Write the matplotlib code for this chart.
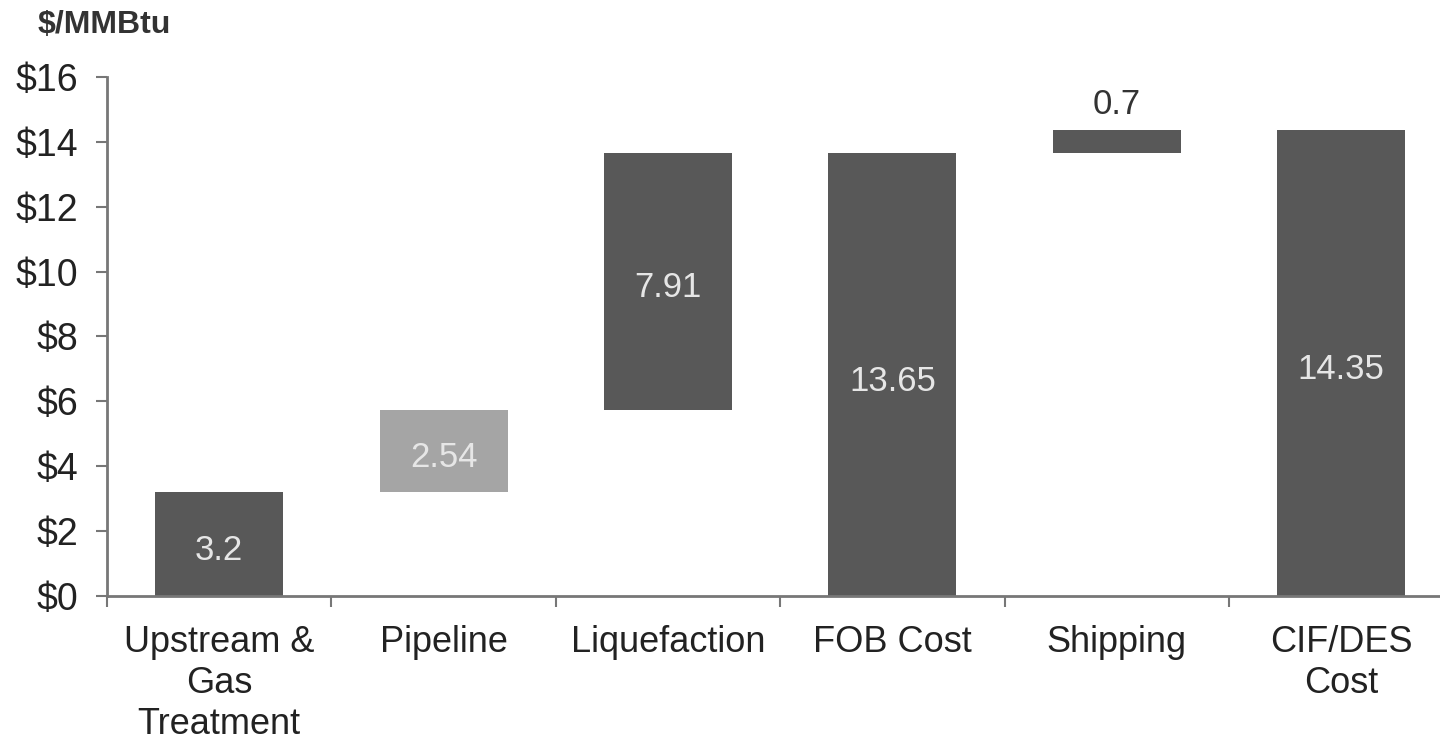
import matplotlib.pyplot as plt
import numpy as np

plt.rcParams['font.family'] = ['Liberation Sans', 'DejaVu Sans']

# LNG cost build-up, $/MMBtu
stages = ['Upstream &\nGas\nTreatment', 'Pipeline', 'Liquefaction', 'FOB Cost', 'Shipping', 'CIF/DES\nCost']
values = [3.2, 2.54, 7.91, 13.65, 0.7, 14.35]
is_total = [False, False, False, True, False, True]
colors = ['#585858', '#a5a5a5', '#585858', '#585858', '#585858', '#585858']

# floating bars start where the running sum left off; totals start at zero
bottoms = []
running = 0.0
for v, tot in zip(values, is_total):
    if tot:
        bottoms.append(0.0)
        running = v
    else:
        bottoms.append(running)
        running += v

fig = plt.figure(figsize=(14.4, 7.46), dpi=100)
ax = fig.add_axes([0.0743, 0.201, 0.935, 0.696])

x = np.arange(len(stages))
ax.bar(x, values, bottom=bottoms, width=0.57, color=colors)

for i, (v, b) in enumerate(zip(values, bottoms)):
    if v < 1:
        ax.text(i, b + v + 0.3, f'{v:g}', ha='center', va='bottom', fontsize=25, color='#333333')
    else:
        ax.text(i, b + v / 2 - 0.2, f'{v:g}', ha='center', va='center', fontsize=25, color='#e6e6e6')

ax.set_xlim(-0.5, 5.5)
ax.set_ylim(0, 16)
ax.set_yticks(range(0, 17, 2))
ax.set_yticklabels([f'${t}' for t in range(0, 17, 2)], fontsize=27, color='#222222')
ax.set_xticks(x)
ax.set_xticklabels(stages, fontsize=26, color='#222222', linespacing=1.22)
ax.set_xticks(np.arange(-0.5, 5.6, 1), minor=True)
ax.tick_params(axis='x', which='major', length=0, pad=21)
ax.tick_params(axis='x', which='minor', length=8, width=1.5, color='#777777', direction='out')
ax.tick_params(axis='y', length=8, width=1.5, color='#777777', pad=13)

for side in ['top', 'right']:
    ax.spines[side].set_visible(False)
for side in ['left', 'bottom']:
    ax.spines[side].set_color('#777777')
    ax.spines[side].set_linewidth(2)

fig.text(0.026, 0.967, '$/MMBtu', fontsize=23, fontweight='bold', color='#333333', va='center')

fig.savefig('out.png', dpi=100)
